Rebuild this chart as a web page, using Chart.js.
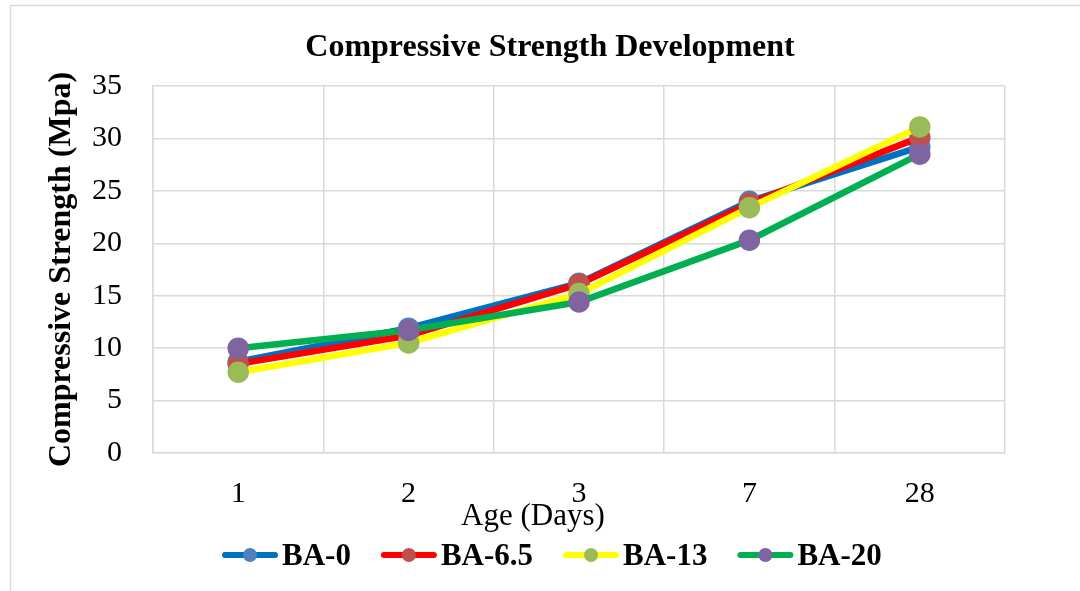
<!DOCTYPE html>
<html>
<head>
<meta charset="utf-8">
<script src="https://cdn.jsdelivr.net/npm/chart.js@4/dist/chart.umd.min.js"></script>
<style>
html,body{margin:0;padding:0;background:#fff;}
#wrap{width:1080px;height:591px;position:relative;}
</style>
</head>
<body>
<div id="wrap"><canvas id="c" width="1080" height="591"></canvas></div>
<script>
const categories = ['1', '2', '3', '7', '28'];
const seriesNames = ['BA-0', 'BA-6.5', 'BA-13', 'BA-20'];
const ba0 = [8.7, 11.9, 16.2, 24.0, 29.2];
const ba65 = [8.5, 11.2, 16.1, 23.8, 30.1];
const ba13 = [7.7, 10.5, 15.2, 23.4, 31.1];
const ba20 = [10.0, 11.7, 14.4, 20.3, 28.5];
const yTicks = [0, 5, 10, 15, 20, 25, 30, 35];
const chartTitle = 'Compressive Strength Development';
const xTitle = 'Age (Days)';
const yTitle = 'Compressive Strength (Mpa)';

const lineColors = ['#0070C0', '#FF0000', '#FFFF00', '#00B050'];
const pointColors = ['#4F81BD', '#C0504D', '#9BBB59', '#8064A2'];
const values = [ba0, ba65, ba13, ba20];
const SERIF = '"Liberation Serif","Times New Roman",serif';

const datasets = values.map((v, i) => ({
  label: seriesNames[i],
  data: v,
  borderColor: lineColors[i],
  backgroundColor: pointColors[i],
  pointBackgroundColor: pointColors[i],
  pointBorderColor: pointColors[i],
  pointRadius: 7.5,
  pointHoverRadius: 7.5,
  borderWidth: 6.5,
  tension: 0,
  order: 3 - i
}));

const decor = {
  id: 'decor',
  beforeDraw(chart) {
    const ctx = chart.ctx;
    ctx.save();
    ctx.fillStyle = '#fff';
    ctx.fillRect(0, 0, chart.width, chart.height);
    ctx.strokeStyle = '#D9D9D9';
    ctx.lineWidth = 1.5;
    ctx.strokeRect(10.5, 5.5, 1200, 700);
    ctx.restore();
  },
  afterDraw(chart) {
    const ctx = chart.ctx;
    ctx.save();
    // title
    ctx.fillStyle = '#000';
    ctx.font = 'bold 32px ' + SERIF;
    ctx.textAlign = 'center';
    ctx.textBaseline = 'alphabetic';
    ctx.fillText(chartTitle, 550, 56);
    // x axis title
    ctx.font = '31px ' + SERIF;
    ctx.fillText(xTitle, 533, 525);
    // legend
    ctx.font = 'bold 31px ' + SERIF;
    ctx.textAlign = 'left';
    const lineLen = 56, gap = 4, itemGap = 30;
    let x = 222;
    const y = 555;
    seriesNames.forEach((n, i) => {
      ctx.strokeStyle = lineColors[i];
      ctx.lineWidth = 6;
      ctx.lineCap = 'round';
      ctx.beginPath();
      ctx.moveTo(x + 3, y);
      ctx.lineTo(x + lineLen - 3, y);
      ctx.stroke();
      ctx.fillStyle = pointColors[i];
      ctx.beginPath();
      ctx.arc(x + lineLen / 2, y, 7, 0, Math.PI * 2);
      ctx.fill();
      ctx.fillStyle = '#000';
      ctx.fillText(n, x + lineLen + gap, y + 10);
      x += lineLen + gap + ctx.measureText(n).width + itemGap;
    });
    ctx.restore();
  }
};

new Chart(document.getElementById('c'), {
  type: 'line',
  data: { labels: categories, datasets },
  plugins: [decor],
  options: {
    responsive: false,
    animation: false,
    devicePixelRatio: 1,
    layout: { padding: { top: 86, left: 0, right: 75, bottom: 0 } },
    plugins: { legend: { display: false }, title: { display: false }, tooltip: { enabled: false } },
    scales: {
      x: {
        offset: true,
        grid: { offset: true, color: '#D9D9D9', lineWidth: 1.5, drawTicks: false },
        border: { color: '#D9D9D9', width: 1.5 },
        ticks: { color: '#000', font: { family: SERIF, size: 30 }, padding: 23 },
        title: { display: false },
        afterFit(s) { s.height = 138; }
      },
      y: {
        min: 0, max: 35,
        afterBuildTicks(s) { s.ticks = yTicks.map(v => ({ value: v })); },
        grid: { color: '#D9D9D9', lineWidth: 1.5, drawTicks: false },
        border: { color: '#D9D9D9', width: 1.5 },
        ticks: { color: '#000', font: { family: SERIF, size: 30 }, padding: 31 },
        title: { display: true, text: yTitle, color: '#000', font: { family: SERIF, size: 32, weight: 'bold' }, padding: { top: 43, bottom: 0 } },
        afterFit(s) { s.width = 153; }
      }
    }
  }
});
</script>
</body>
</html>
